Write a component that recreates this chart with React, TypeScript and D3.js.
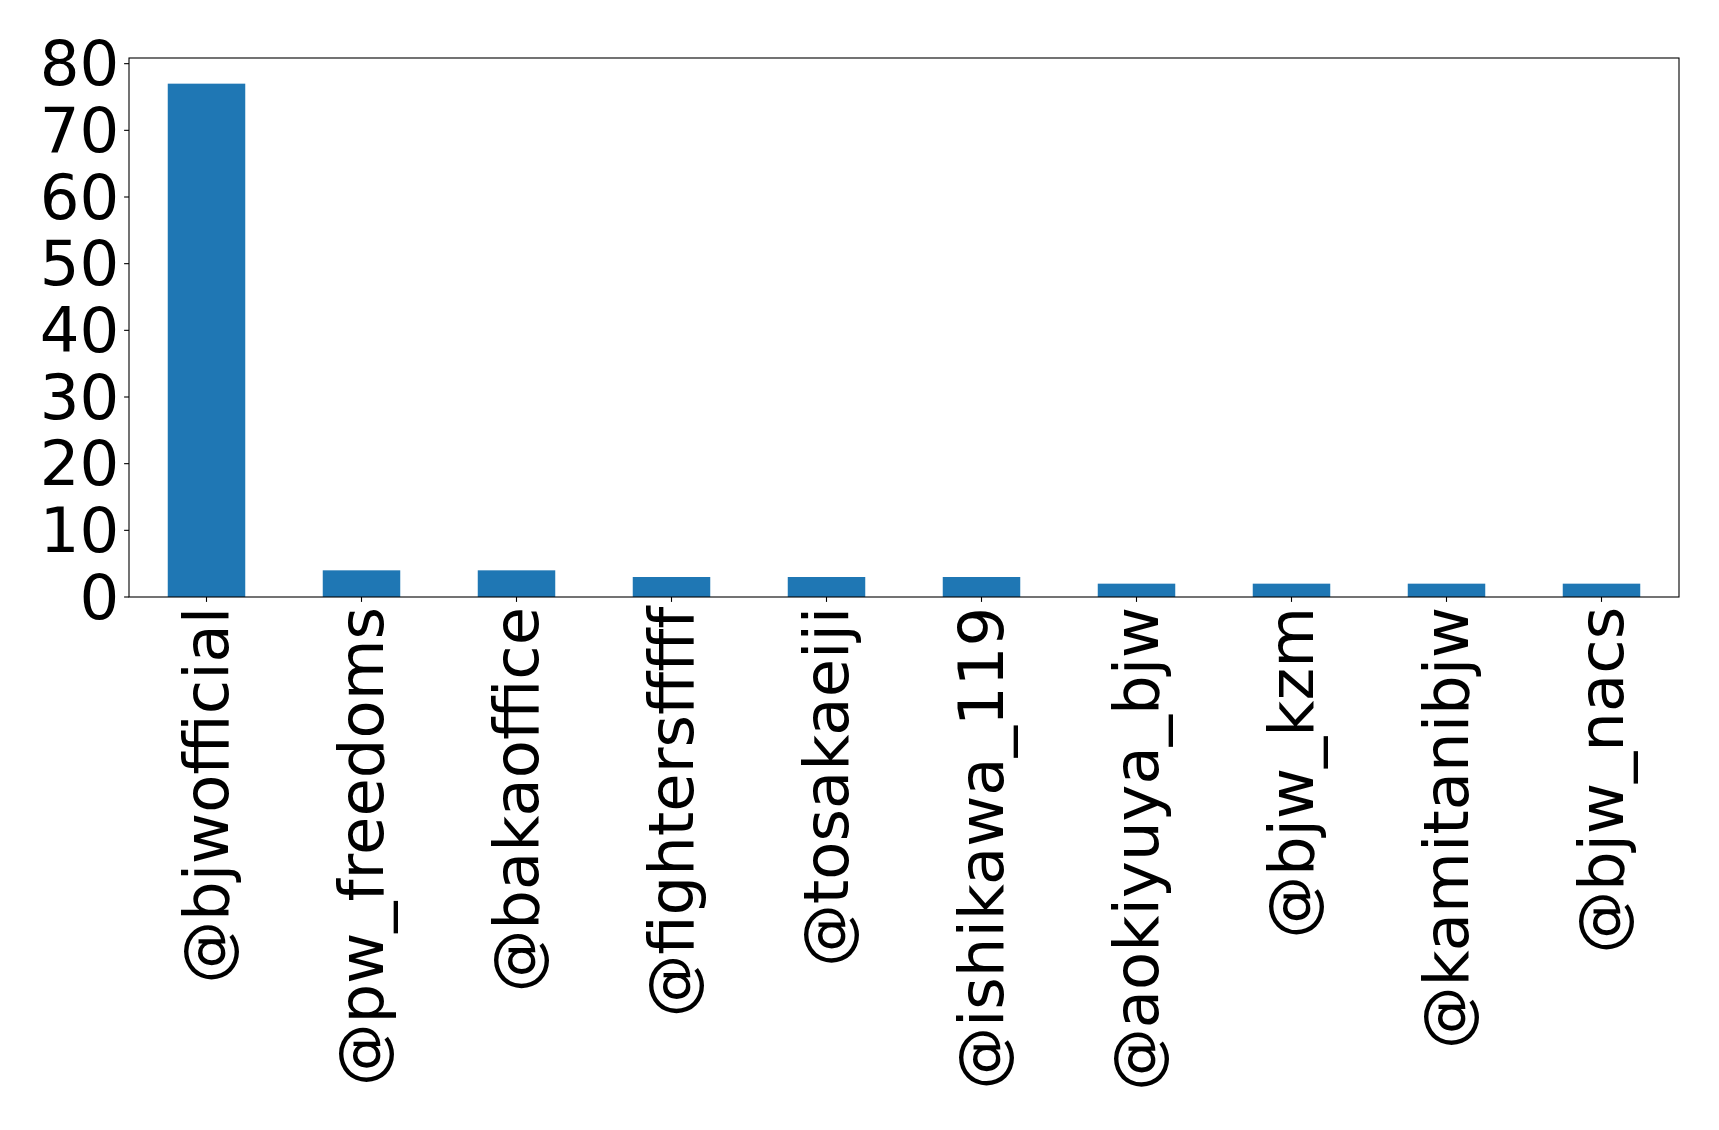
import { useRef, useEffect } from "react";
import * as d3 from "d3";

const accounts = [
  "@bjwofficial",
  "@pw_freedoms",
  "@bakaoffice",
  "@fightersfffff",
  "@tosakaeiji",
  "@ishikawa_119",
  "@aokiyuya_bjw",
  "@bjw_kzm",
  "@kamitanibjw",
  "@bjw_nacs",
];
const counts = [77, 4, 4, 3, 3, 3, 2, 2, 2, 2];
const yTicks = [0, 10, 20, 30, 40, 50, 60, 70, 80];

const barColor = "#1f77b4";

export default function App() {
  const svgRef = useRef<SVGSVGElement>(null);

  const svgWidth = 1719;
  const svgHeight = 1130;
  const margin = { top: 58, right: 40, bottom: 533, left: 129 };

  useEffect(() => {
    if (!svgRef.current) return;
    const svg = d3.select(svgRef.current);
    svg.selectAll("*").remove();

    const innerW = svgWidth - margin.left - margin.right;
    const innerH = svgHeight - margin.top - margin.bottom;
    const fontSize = 62.5;
    const tickLen = 4.9;
    const pad = 4.9;

    const g = svg
      .append("g")
      .attr("transform", `translate(${margin.left},${margin.top})`);

    // pandas-style bar positions: index 0..n-1, xlim -0.5..n-0.5
    const x = d3
      .scaleLinear()
      .domain([-0.5, accounts.length - 0.5])
      .range([0, innerW]);

    const yMax = d3.max(counts)! * 1.05;
    const y = d3.scaleLinear().domain([0, yMax]).range([innerH, 0]);

    const barW = x(0.25) - x(0);

    // Bars
    g.selectAll("rect.bar")
      .data(counts)
      .join("rect")
      .attr("class", "bar")
      .attr("x", (_, i) => x(i) - barW)
      .attr("y", (d) => y(d))
      .attr("width", barW * 2)
      .attr("height", (d) => innerH - y(d))
      .attr("fill", barColor);

    // Frame
    g.append("rect")
      .attr("x", 0)
      .attr("y", 0)
      .attr("width", innerW)
      .attr("height", innerH)
      .attr("fill", "none")
      .attr("stroke", "#000")
      .attr("stroke-width", 1.1);

    // Y ticks
    for (const t of yTicks) {
      g.append("line")
        .attr("x1", -tickLen)
        .attr("x2", 0)
        .attr("y1", y(t))
        .attr("y2", y(t))
        .attr("stroke", "#000")
        .attr("stroke-width", 1.1);
      g.append("text")
        .attr("x", -tickLen - pad)
        .attr("y", y(t))
        .attr("text-anchor", "end")
        .attr("dominant-baseline", "central")
        .attr("font-family", "DejaVu Sans")
        .attr("font-size", fontSize)
        .attr("fill", "#000")
        .text(t);
    }

    // X ticks and rotated labels
    accounts.forEach((name, i) => {
      const cx = x(i);
      g.append("line")
        .attr("x1", cx)
        .attr("x2", cx)
        .attr("y1", innerH)
        .attr("y2", innerH + tickLen)
        .attr("stroke", "#000")
        .attr("stroke-width", 1.1);
      const ty = innerH + tickLen + pad;
      g.append("text")
        .attr("x", cx)
        .attr("y", ty)
        .attr("transform", `rotate(-90,${cx},${ty})`)
        .attr("text-anchor", "end")
        .attr("dominant-baseline", "central")
        .attr("font-family", "DejaVu Sans")
        .attr("font-size", fontSize)
        .attr("fill", "#000")
        .text(name);
    });
  }, []);

  return (
    <svg
      ref={svgRef}
      width={svgWidth}
      height={svgHeight}
      viewBox={`0 0 ${svgWidth} ${svgHeight}`}
      style={{ position: "absolute", left: 0, top: 0, background: "#fff" }}
    />
  );
}
